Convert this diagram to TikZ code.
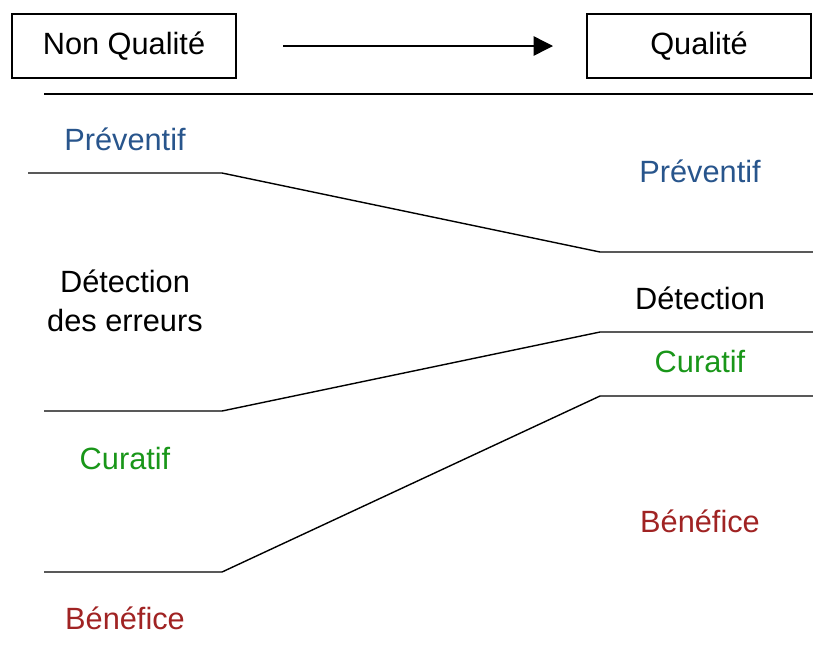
\documentclass[tikz,border=0pt]{standalone}
\usepackage{fontspec}
\setmainfont{Liberation Sans}
\usetikzlibrary{arrows.meta}
\definecolor{prevblue}{RGB}{40,85,140}
\definecolor{curgreen}{RGB}{25,150,25}
\definecolor{benred}{RGB}{160,35,35}

\begin{document}
\begin{tikzpicture}[x=0.02cm,y=-0.02cm,
   qbox/.style={draw,line width=0.7pt,minimum width=4.48cm,minimum height=1.28cm,inner sep=0pt},
   lab/.style={font=\fontsize{17.5}{22}\selectfont,align=center},
   level/.style={line width=0.8pt}]
   \useasboundingbox (0,0) rectangle (813,647);
   % the two states and the arrow between them
   \node[qbox,lab] (nonq) at (124,46) {Non Qualit\'e};
   \node[qbox,lab] (qual) at (699,46) {Qualit\'e};
   \coordinate (arrs) at (283,46); % arrow start
   \coordinate (arre) at (553,46); % arrow end
   \draw[line width=0.8pt,-{Triangle[length=11pt,width=11pt]}] (arrs) -- (arre);
   % top rule
   \draw[level] (44,94) -- (813,94);
   % separating lines: left height / right height
   \foreach \xl/\yl/\yr in {28/173/252, 44/411/332, 44/572/396}
   \draw[level] (\xl,\yl) -- (222,\yl) -- (600,\yr) -- (813,\yr);
   % left column (non qualite)
   \node[lab,text=prevblue] (lprev) at (125,139) {Pr\'eventif};
   \node[lab] (ldet) at (125,301) {D\'etection\\des erreurs};
   \node[lab,text=curgreen] (lcur) at (125,458) {Curatif};
   \node[lab,text=benred] (lben) at (125,618) {B\'en\'efice};
   % right column (qualite)
   \node[lab,text=prevblue] (rprev) at (700,171) {Pr\'eventif};
   \node[lab] (rdet) at (700,298) {D\'etection};
   \node[lab,text=curgreen] (rcur) at (700,361) {Curatif};
   \node[lab,text=benred] (rben) at (700,521) {B\'en\'efice};
\end{tikzpicture}
\end{document}
